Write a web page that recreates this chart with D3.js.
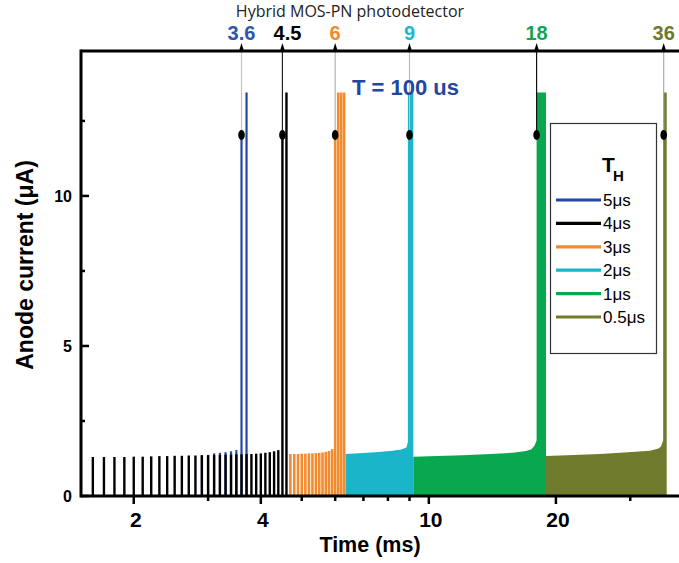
<!DOCTYPE html>
<html>
<head>
<meta charset="utf-8">
<script src="https://cdn.jsdelivr.net/npm/d3@7"></script>
<style>
	body { margin: 0; background: #fff; }
	svg { display: block; font-family: "Liberation Sans", Arial, sans-serif; }
	.tick-label { font-weight: bold; }
</style>
</head>
<body>
<div id="chart"></div>
<script>
///////////////////////////////////////////////////////////////////////////////
//// Data /////////////////////////////////////////////////////////////////////
///////////////////////////////////////////////////////////////////////////////
const xMajorTicks = [2, 4, 10, 20];
const xMinorTicks = [3, 5, 6, 7, 8, 9, 30];
const yMajorTicks = [0, 5, 10];
const yMinorTicks = [2.5, 7.5, 12.5];

// burst onset marks on the top axis (ms)
const markTimes = [3.6, 4.5, 6, 9, 18, 36];
const markLabels = ["3.6", "4.5", "6", "9", "18", "36"];

const seriesNames = ["5\u03bcs", "4\u03bcs", "3\u03bcs", "2\u03bcs", "1\u03bcs", "0.5\u03bcs"];

// T_H = 5 us pulses (only the ones that show above the 4 us series)
const blueTimes   = [2.9, 3.0, 3.1, 3.2, 3.3, 3.4, 3.5, 3.6, 3.7];
const blueCurrent = [1.36, 1.37, 1.42, 1.44, 1.46, 1.49, 1.53, 12.0, 13.45];

// T_H = 4 us pulses
const blackTimes = [1.6, 1.7, 1.8, 1.9, 2.0, 2.1, 2.2, 2.3, 2.4, 2.5, 2.6,
	2.7, 2.8, 2.9, 3.0, 3.1, 3.2, 3.3, 3.4, 3.5, 3.6, 3.7, 3.8, 3.9, 4.0,
	4.1, 4.2, 4.3, 4.4, 4.5, 4.6];
const blackCurrent = [1.30, 1.30, 1.30, 1.30, 1.31, 1.31, 1.32, 1.33, 1.33,
	1.34, 1.34, 1.35, 1.35, 1.36, 1.36, 1.37, 1.37, 1.38, 1.38, 1.39, 1.39,
	1.40, 1.40, 1.41, 1.42, 1.44, 1.46, 1.49, 1.53, 12.0, 13.45];

// T_H = 3 us pulses
const orangeTimes = [4.7, 4.8, 4.9, 5.0, 5.1, 5.2, 5.3, 5.4, 5.5, 5.6, 5.7,
	5.8, 5.9, 6.0, 6.1, 6.2, 6.3];
const orangeCurrent = [1.40, 1.40, 1.40, 1.41, 1.41, 1.42, 1.42, 1.43, 1.44,
	1.45, 1.47, 1.50, 1.56, 12.0, 13.45, 13.45, 13.45];

// T_H = 2, 1, 0.5 us : pulses too dense to separate, read as envelopes
const cyanTimes   = [6.35, 6.35, 7.0, 7.6, 8.2, 8.6, 8.85, 8.92, 8.92, 9.19, 9.19];
const cyanCurrent = [0, 1.40, 1.43, 1.47, 1.51, 1.55, 1.62, 1.80, 13.45, 13.45, 0];

const greenTimes   = [9.19, 9.19, 10.5, 12.0, 14.0, 15.8, 17.0, 17.5, 17.8, 18.0, 18.0, 18.95, 18.95];
const greenCurrent = [0, 1.31, 1.33, 1.36, 1.40, 1.44, 1.50, 1.56, 1.68, 1.85, 13.45, 13.45, 0];

const oliveTimes   = [18.95, 18.95, 22.0, 25.4, 29.0, 33.4, 35.0, 35.5, 35.9, 35.9, 36.6, 36.6];
const oliveCurrent = [0, 1.33, 1.37, 1.40, 1.45, 1.51, 1.58, 1.66, 1.85, 13.45, 13.45, 0];

///////////////////////////////////////////////////////////////////////////////
//// Set up ///////////////////////////////////////////////////////////////////
///////////////////////////////////////////////////////////////////////////////
const W = 679, H = 563;
const colors = ["#2347a5", "#000000", "#f28b2d", "#1bb5ca", "#08a84f", "#717b2e"];
const markColors = ["#2f55b2", "#000000", "#f08a30", "#22b8c9", "#12a550", "#6d7a2a"];
const guideColors = ["#c4c4c4", "#222222", "#b4b4b4", "#bdbdbd", "#111111", "#aaaaaa"];

const x = d3.scaleLog()
		.domain([1.5, 40])
		.range([81, 683]);

const y = d3.scaleLinear()
		.domain([0, 14.83])
		.range([496, 51]);

const svg = d3.select("#chart")
	.append("svg")
		.attr("width", W)
		.attr("height", H);

///////////////////////////////////////////////////////////////////////////////
//// Series ///////////////////////////////////////////////////////////////////
///////////////////////////////////////////////////////////////////////////////
const envelope = d3.line()
		.x(d => x(d[0]))
		.y(d => y(d[1]));

[[cyanTimes, cyanCurrent, colors[3]],
 [greenTimes, greenCurrent, colors[4]],
 [oliveTimes, oliveCurrent, colors[5]]].forEach(([t, c, col]) => {
	svg.append("path")
		.attr("d", envelope(d3.zip(t, c)) + "Z")
		.attr("fill", col)
		.attr("stroke", "none");
});

function drawPulses(times, current, col, w) {
	svg.append("g")
		.selectAll("line")
		.data(d3.zip(times, current))
		.enter()
		.append("line")
			.attr("x1", d => x(d[0]))
			.attr("x2", d => x(d[0]))
			.attr("y1", y(0))
			.attr("y2", d => y(d[1]))
			.attr("stroke", col)
			.attr("stroke-width", w);
}

drawPulses(orangeTimes, orangeCurrent, colors[2], 2.6);
drawPulses(blueTimes, blueCurrent, colors[0], 2.2);
drawPulses(blackTimes, blackCurrent, colors[1], 2.4);

///////////////////////////////////////////////////////////////////////////////
//// Marks on top axis ////////////////////////////////////////////////////////
///////////////////////////////////////////////////////////////////////////////
const marks = svg.append("g")
	.selectAll("g")
	.data(markTimes)
	.enter()
	.append("g");

marks.append("line")
	.attr("x1", d => x(d))
	.attr("x2", d => x(d))
	.attr("y1", y(14.83))
	.attr("y2", 135)
	.attr("stroke", (d, i) => guideColors[i])
	.attr("stroke-width", 1.2);

marks.append("ellipse")
	.attr("cx", d => x(d))
	.attr("cy", 135)
	.attr("rx", 3.3)
	.attr("ry", 5)
	.attr("fill", "#000");

marks.append("path")
	.attr("d", d => `M${x(d) - 2.5},${y(14.83)} L${x(d)},${y(14.83) - 8} L${x(d) + 2.5},${y(14.83)} Z`)
	.attr("fill", "#000");

marks.append("text")
	.attr("class", "tick-label")
	.attr("x", (d, i) => x(d) + (markLabels[i] === "4.5" ? 5 : 0))
	.attr("y", 40)
	.attr("text-anchor", "middle")
	.attr("font-size", 20)
	.attr("fill", (d, i) => markColors[i])
	.text((d, i) => markLabels[i]);

///////////////////////////////////////////////////////////////////////////////
//// Axes /////////////////////////////////////////////////////////////////////
///////////////////////////////////////////////////////////////////////////////
const axisG = svg.append("g")
		.attr("stroke", "#000")
		.attr("stroke-width", 3);

axisG.append("line")
	.attr("x1", x.range()[0]).attr("x2", x.range()[1])
	.attr("y1", y(0)).attr("y2", y(0));
axisG.append("line")
	.attr("x1", x.range()[0]).attr("x2", x.range()[1])
	.attr("y1", y(14.83)).attr("y2", y(14.83));
axisG.append("line")
	.attr("x1", x.range()[0]).attr("x2", x.range()[0])
	.attr("y1", y(0) + 1.5).attr("y2", y(14.83) - 1.5);

// x ticks point out, y ticks point in
axisG.selectAll(".xmaj")
	.data(xMajorTicks).enter().append("line")
		.attr("x1", d => x(d)).attr("x2", d => x(d))
		.attr("y1", y(0)).attr("y2", y(0) + 8)
		.attr("stroke-width", 2.5);
axisG.selectAll(".xmin")
	.data(xMinorTicks).enter().append("line")
		.attr("x1", d => x(d)).attr("x2", d => x(d))
		.attr("y1", y(0)).attr("y2", y(0) + 5)
		.attr("stroke-width", 2.5);
axisG.selectAll(".ymaj")
	.data(yMajorTicks).enter().append("line")
		.attr("x1", x.range()[0]).attr("x2", x.range()[0] + 8)
		.attr("y1", d => y(d)).attr("y2", d => y(d))
		.attr("stroke-width", 2.5);
axisG.selectAll(".ymin")
	.data(yMinorTicks).enter().append("line")
		.attr("x1", x.range()[0]).attr("x2", x.range()[0] + 4)
		.attr("y1", d => y(d)).attr("y2", d => y(d))
		.attr("stroke-width", 2.5);

svg.append("g")
	.selectAll("text")
	.data(xMajorTicks)
	.enter()
	.append("text")
		.attr("class", "tick-label")
		.attr("x", d => x(d) + 2)
		.attr("y", 527)
		.attr("text-anchor", "middle")
		.attr("font-size", 21)
		.text(d => d);

svg.append("g")
	.selectAll("text")
	.data(yMajorTicks)
	.enter()
	.append("text")
		.attr("class", "tick-label")
		.attr("x", 72)
		.attr("y", d => y(d) + 6)
		.attr("text-anchor", "end")
		.attr("font-size", 16)
		.text(d => d);

svg.append("text")
	.attr("x", 370)
	.attr("y", 552)
	.attr("text-anchor", "middle")
	.attr("font-size", 21.5)
	.attr("font-weight", "bold")
	.text("Time (ms)");

svg.append("text")
	.attr("transform", "translate(33, 265) rotate(-90)")
	.attr("text-anchor", "middle")
	.attr("font-size", 23)
	.attr("font-weight", "bold")
	.text("Anode current (\u03bcA)");

svg.append("text")
	.attr("x", 350)
	.attr("y", 17)
	.attr("text-anchor", "middle")
	.attr("font-family", "'Open Sans', sans-serif")
	.attr("font-size", 16)
	.attr("fill", "#222")
	.text("Hybrid MOS-PN photodetector");

svg.append("text")
	.attr("x", 352)
	.attr("y", 95)
	.attr("font-size", 22)
	.attr("font-weight", "bold")
	.attr("fill", "#23479e")
	.text("T = 100 us");

///////////////////////////////////////////////////////////////////////////////
//// Legend ///////////////////////////////////////////////////////////////////
///////////////////////////////////////////////////////////////////////////////
const legendG = svg.append("g");

legendG.append("rect")
	.attr("x", 550.5)
	.attr("y", 123.5)
	.attr("width", 106)
	.attr("height", 230)
	.attr("fill", "#fff")
	.attr("stroke", "#333")
	.attr("stroke-width", 1.2);

legendG.append("text")
	.attr("x", 602)
	.attr("y", 172)
	.attr("font-size", 21)
	.attr("font-weight", "bold")
	.text("T");
legendG.append("text")
	.attr("x", 613)
	.attr("y", 181)
	.attr("font-size", 15)
	.attr("font-weight", "bold")
	.text("H");

const legend = legendG.selectAll(".legend")
	.data(seriesNames)
	.enter()
	.append("g")
		.attr("class", "legend")
		.attr("transform", (d, i) => `translate(556, ${200 + 23.4 * i})`);

legend.append("line")
	.attr("x1", 0)
	.attr("x2", 45)
	.attr("stroke", (d, i) => colors[i])
	.attr("stroke-width", 3.2);

legend.append("text")
	.attr("x", 47)
	.attr("y", 6)
	.attr("font-size", 17)
	.text(d => d);
</script>
</body>
</html>
